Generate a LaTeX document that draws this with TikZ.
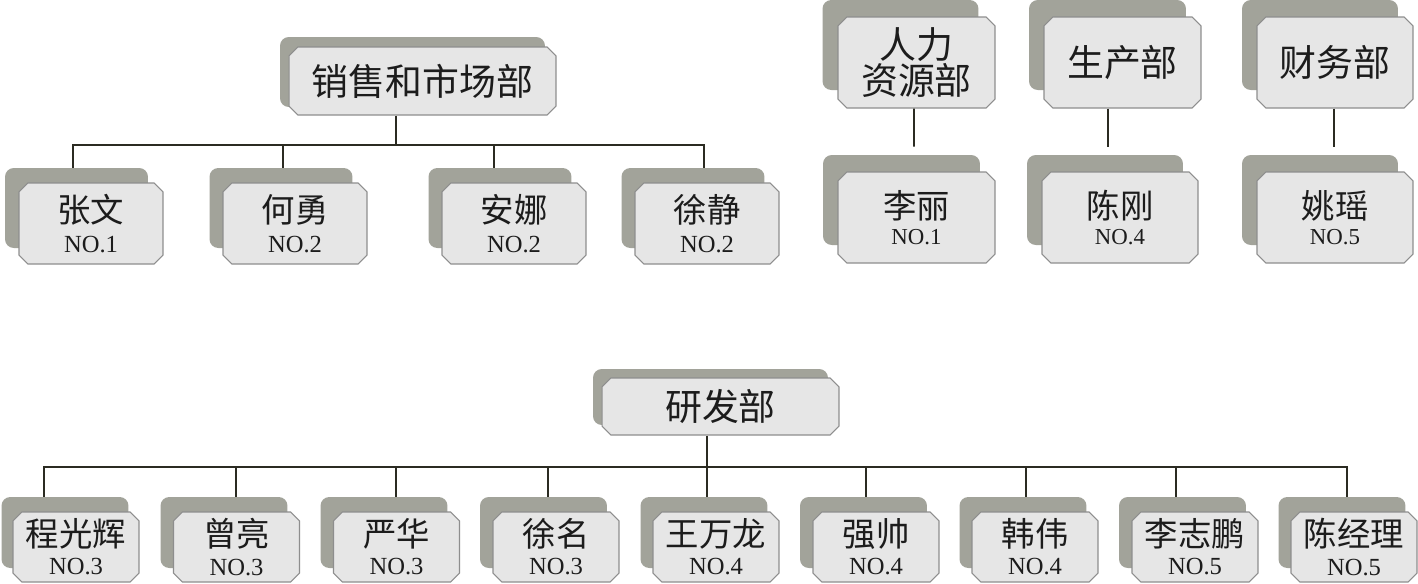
\documentclass[tikz,border=0pt]{standalone}
\usepackage{fontspec}
\setmainfont{Liberation Serif}
\newfontfamily\cjk{Noto Sans CJK SC}
\usetikzlibrary{shapes.misc, calc}
\definecolor{ocBack}{HTML}{A2A39A}
\definecolor{ocFront}{HTML}{E6E6E6}
\definecolor{ocEdge}{HTML}{8E8E8E}
\definecolor{ocLine}{HTML}{2B2B22}
\definecolor{ocInk}{HTML}{1C1C1C}
\newcommand{\rank}[1]{{\rmfamily\fontsize{14}{17}\selectfont NO.#1}}
\newcommand{\rankS}[1]{{\rmfamily\fontsize{13}{15}\selectfont NO.#1}}
\tikzset{
  backbox/.style={rectangle, rounded corners=5pt, fill=ocBack, draw=none, inner sep=0pt},
  frontbox/.style={chamfered rectangle, chamfered rectangle xsep=2.5pt,
    chamfered rectangle ysep=2.5pt, fill=ocFront, draw=ocEdge, line width=0.6pt,
    inner sep=0pt, align=center, text=ocInk},
  deptbox/.style={frontbox, font=\cjk\fontsize{21}{21}\selectfont},
  empbox/.style={frontbox, font=\cjk\fontsize{19}{#1}\selectfont},
  empbox/.default=17pt,
  orgline/.style={draw=ocLine, line width=1.1pt}
}

\begin{document}
\begin{tikzpicture}[x=0.02cm, y=-0.02cm]
  \useasboundingbox[fill=white] (0,0) rectangle (1418,583);

  % sales and marketing
  \node[backbox, minimum width=5.3cm, minimum height=1.4cm] (salesB) at (412.5,72) {};
  \node[deptbox, minimum width=5.34cm, minimum height=1.36cm] (sales) at (422.5,81) {销售和市场部};

  \node[backbox, minimum width=2.86cm, minimum height=1.6cm] (zwB) at (76.5,208) {};
  \node[empbox, minimum width=2.88cm, minimum height=1.62cm] (zw) at (91,223.5) {张文\\\rank{1}};
  \node[backbox, minimum width=2.86cm, minimum height=1.6cm] (hyB) at (281,208) {};
  \node[empbox, minimum width=2.88cm, minimum height=1.62cm] (hy) at (295,223.5) {何勇\\\rank{2}};
  \node[backbox, minimum width=2.86cm, minimum height=1.6cm] (anB) at (500,208) {};
  \node[empbox, minimum width=2.88cm, minimum height=1.62cm] (an) at (514,223.5) {安娜\\\rank{2}};
  \node[backbox, minimum width=2.86cm, minimum height=1.6cm] (xjB) at (693,208) {};
  \node[empbox, minimum width=2.88cm, minimum height=1.62cm] (xj) at (707,223.5) {徐静\\\rank{2}};

  % single departments
  \node[backbox, minimum width=3.12cm, minimum height=1.8cm] (hrB) at (900.5,45) {};
  \node[deptbox, minimum width=3.14cm, minimum height=1.82cm] (hr) at (916.5,62.5) {人力\\资源部};
  \node[backbox, minimum width=3.14cm, minimum height=1.8cm] (pdB) at (1107.5,45) {};
  \node[deptbox, minimum width=3.14cm, minimum height=1.82cm] (pd) at (1122.5,62.5) {生产部};
  \node[backbox, minimum width=3.12cm, minimum height=1.8cm] (fnB) at (1320,45) {};
  \node[deptbox, minimum width=3.12cm, minimum height=1.82cm] (fn) at (1335,62.5) {财务部};

  \node[backbox, minimum width=3.14cm, minimum height=1.8cm] (llB) at (901.5,200) {};
  \node[empbox=15pt, minimum width=3.14cm, minimum height=1.82cm] (ll) at (916.5,217.5) {李丽\\\rankS{1}};
  \node[backbox, minimum width=3.12cm, minimum height=1.8cm] (cgB) at (1105,200) {};
  \node[empbox=15pt, minimum width=3.12cm, minimum height=1.82cm] (cg) at (1120,217.5) {陈刚\\\rankS{4}};
  \node[backbox, minimum width=3.12cm, minimum height=1.8cm] (yyB) at (1320,200) {};
  \node[empbox=15pt, minimum width=3.12cm, minimum height=1.82cm] (yy) at (1335,217.5) {姚瑶\\\rankS{5}};

  % research and development
  \node[backbox, minimum width=4.7cm, minimum height=1.12cm] (rdB) at (710.5,397) {};
  \node[deptbox, minimum width=4.74cm, minimum height=1.14cm] (rd) at (720.5,406.5) {研发部};

  \node[backbox, minimum width=2.54cm, minimum height=1.42cm] (cghB) at (65,532.5) {};
  \node[empbox=16pt, minimum width=2.52cm, minimum height=1.4cm] (cgh) at (76,547) {程光辉\\\rank{3}};
  \node[backbox, minimum width=2.54cm, minimum height=1.42cm] (zlB) at (224,532.5) {};
  \node[empbox=16pt, minimum width=2.52cm, minimum height=1.4cm] (zl) at (236.5,547) {曾亮\\\rank{3}};
  \node[backbox, minimum width=2.54cm, minimum height=1.42cm] (yhB) at (384,532.5) {};
  \node[empbox=16pt, minimum width=2.52cm, minimum height=1.4cm] (yh) at (396.5,547) {严华\\\rank{3}};
  \node[backbox, minimum width=2.54cm, minimum height=1.42cm] (xmB) at (543.5,532.5) {};
  \node[empbox=16pt, minimum width=2.52cm, minimum height=1.4cm] (xm) at (556,547) {徐名\\\rank{3}};
  \node[backbox, minimum width=2.54cm, minimum height=1.42cm] (wwlB) at (704,532.5) {};
  \node[empbox=16pt, minimum width=2.52cm, minimum height=1.4cm] (wwl) at (716,547) {王万龙\\\rank{4}};
  \node[backbox, minimum width=2.54cm, minimum height=1.42cm] (qsB) at (863.5,532.5) {};
  \node[empbox=16pt, minimum width=2.52cm, minimum height=1.4cm] (qs) at (876,547) {强帅\\\rank{4}};
  \node[backbox, minimum width=2.54cm, minimum height=1.42cm] (hwB) at (1023,532.5) {};
  \node[empbox=16pt, minimum width=2.52cm, minimum height=1.4cm] (hw) at (1035,547) {韩伟\\\rank{4}};
  \node[backbox, minimum width=2.54cm, minimum height=1.42cm] (lzpB) at (1182.5,532.5) {};
  \node[empbox=16pt, minimum width=2.52cm, minimum height=1.4cm] (lzp) at (1195,547) {李志鹏\\\rank{5}};
  \node[backbox, minimum width=2.54cm, minimum height=1.42cm] (cjlB) at (1342,532.5) {};
  \node[empbox=16pt, minimum width=2.52cm, minimum height=1.4cm] (cjl) at (1354,547) {陈经理\\\rank{5}};

  % connectors
  \coordinate (sj) at (396,145);
  \draw[orgline] (sales.south -| sj) -- (sj);
  \draw[orgline] ($(zwB.north)+(-3.5,0)$) |- (sj) -| ($(xjB.north)+(11,0)$);
  \draw[orgline] ($(hyB.north)+(2,0)$) |- (sj);
  \draw[orgline] ($(anB.north)+(-6,0)$) |- (sj);

  \draw[orgline, shorten >=0.16cm] ($(hr.south)+(-2.5,0)$) -- ($(llB.north)+(12.5,0)$);
  \draw[orgline, shorten >=0.16cm] ($(pd.south)+(-14.5,0)$) -- ($(cgB.north)+(3,0)$);
  \draw[orgline, shorten >=0.16cm] ($(fn.south)+(-1,0)$) -- ($(yyB.north)+(14,0)$);

  \coordinate (rj) at (707,467);
  \draw[orgline] (rd.south -| rj) -- (rj);
  \draw[orgline] ($(cghB.north)+(-21,0)$) |- (rj) -| ($(cjlB.north)+(5,0)$);
  \draw[orgline] ($(zlB.north)+(12,0)$) |- (rj);
  \draw[orgline] ($(yhB.north)+(12,0)$) |- (rj);
  \draw[orgline] ($(xmB.north)+(4.5,0)$) |- (rj);
  \draw[orgline] ($(wwlB.north)+(3,0)$) |- (rj);
  \draw[orgline] ($(qsB.north)+(2.5,0)$) |- (rj);
  \draw[orgline] ($(hwB.north)+(3,0)$) |- (rj);
  \draw[orgline] ($(lzpB.north)+(-6.5,0)$) |- (rj);
\end{tikzpicture}
\end{document}
